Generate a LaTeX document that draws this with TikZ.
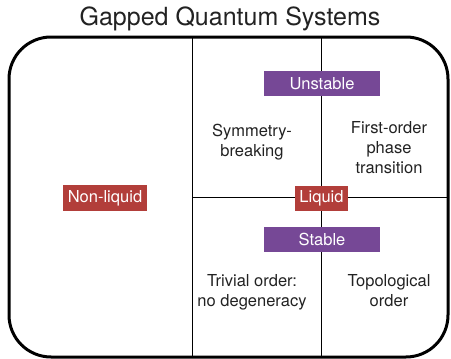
\documentclass[tikz,border=0pt]{standalone}
\usepackage{fontspec}
\setmainfont{TeX Gyre Heros}
\usetikzlibrary{calc}
\usepackage{xcolor}
\definecolor{tagred}{RGB}{178,62,58}
\definecolor{tagpurple}{RGB}{118,72,150}
\definecolor{inkgray}{RGB}{34,34,34}

\begin{document}
\begin{tikzpicture}[x=1pt, y=-1pt]
        % ================= 样式定义 =================
        % 标签样式:色块填充,白字
        % 格子文字样式:居中多行
        \tikzset{
            tag/.style={fill=#1, text=white, inner sep=0pt, minimum height=25pt,
                        font=\fontsize{16.5}{20}\selectfont},
            cell/.style={align=center, text=inkgray, font=\fontsize{16.5}{20}\selectfont},
            divider/.style={draw=black, line width=1pt}
        }
        \useasboundingbox (0,0) rectangle (451,359);

        % ================= 绘图部分 =================

        % 标题
        \node[text=inkgray, font=\fontsize{25}{28}\selectfont] (title) at (230,19) {Gapped Quantum Systems};

        % 外框:圆角矩形
        \draw[line width=3pt, rounded corners=42pt] (9,37) rectangle (448,357);

        % 分割线
        \coordinate (lefttop) at (192,37);
        \coordinate (leftbot) at (192,357);
        \coordinate (midtop) at (321,37);
        \coordinate (midbot) at (321,357);
        \coordinate (rowleft) at (192,197);
        \coordinate (rowright) at (448,197);
        \draw[divider] (lefttop) -- (leftbot);
        \draw[divider] (midtop) -- (midbot);
        \draw[divider] (rowleft) -- (rowright);

        % 格子文字
        \node[cell] (symbreak) at (252,142) {Symmetry-\\breaking};
        \node[cell] (firstorder) at (389,148) {First-order\\phase\\transition};
        \node[cell] (trivial) at (252,292) {Trivial order:\\no degeneracy};
        \node[cell] (topo) at (389,291) {Topological\\order};

        % 标签
        \node[tag=tagpurple, minimum width=116pt] (unstable) at (322,83.5) {Unstable};
        \node[tag=tagpurple, minimum width=116pt] (stable) at (322,239.5) {Stable};
        \node[tag=tagred, minimum width=53pt] (liquid) at (321.5,198.5) {Liquid};
        \node[tag=tagred, minimum width=84pt, minimum height=26pt] (nonliquid) at (105,198) {Non-liquid};

    \end{tikzpicture}
\end{document}
